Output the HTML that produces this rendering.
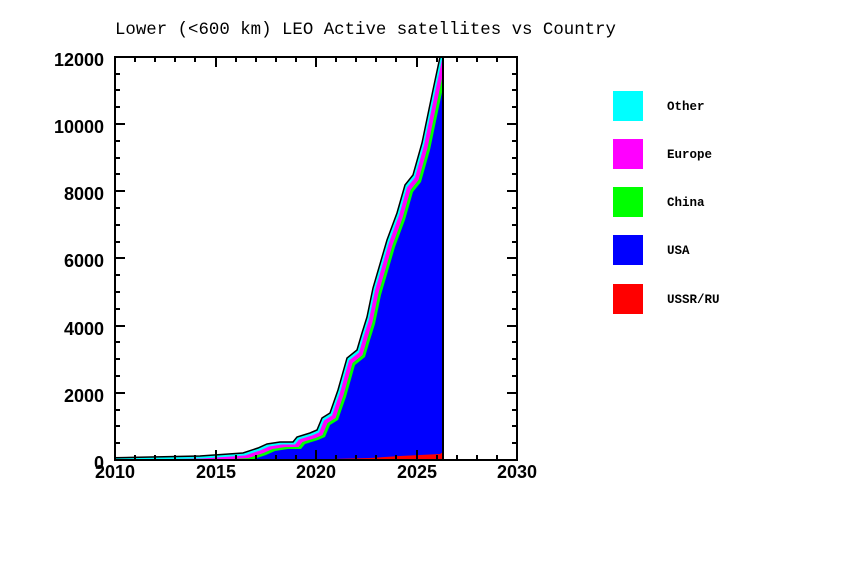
<!DOCTYPE html>
<html><head><meta charset="utf-8"><style>
html,body{margin:0;padding:0;background:#fff;}
svg{display:block;}
.t{font-family:"Liberation Sans",sans-serif;font-weight:bold;font-size:18px;fill:#000;}
.l{font-family:"Liberation Mono",monospace;font-weight:bold;font-size:12.5px;fill:#000;}
</style></head><body>
<svg width="857" height="576" viewBox="0 0 857 576" xmlns="http://www.w3.org/2000/svg">
<defs>
<clipPath id="c"><rect x="115" y="57" width="328" height="403"/></clipPath>
<polygon id="p" points="100,458 200,456 243,453 258,448 267,444 280,442 293,442 297,437 310,433 317,430 322,418 330,413 338,390 347,358 357,350 362,333 367,317 373,288 387,240 397,213 405,185 413,175 422,143 433,90 440,57 443,40 460,40 460,470 100,470"/>
</defs>
<text x="115" y="34" font-family="Liberation Mono,monospace" font-size="17.4" fill="#000">Lower (&lt;600 km) LEO Active satellites vs Country</text>
<g clip-path="url(#c)">
<use href="#p" fill="#00ffff" stroke="#000" stroke-width="1.5"/>
<use href="#p" fill="#ff00ff" transform="translate(2,2.5)"/>
<use href="#p" fill="#00ff00" transform="translate(5.5,5)"/>
<use href="#p" fill="#0000ff" transform="translate(8,7)"/>
<polygon points="115,460 115,459 330,459 370,458 400,456 420,455 440,454 443,452 443,460" fill="#ff0000"/>
</g>
<line x1="443" y1="57" x2="443" y2="460" stroke="#000" stroke-width="2"/>
<rect x="115" y="57" width="402" height="403" fill="none" stroke="#000" stroke-width="2"/>
<g stroke="#000" stroke-width="2">
<path d="M115,460h10M115,393h10M115,326h10M115,258h10M115,191h10M115,124h10M115,57h10
M517,460h-10M517,393h-10M517,326h-10M517,258h-10M517,191h-10M517,124h-10M517,57h-10
M115,443h5M115,426h5M115,410h5M115,376h5M115,359h5M115,342h5M115,309h5M115,292h5M115,275h5M115,242h5M115,225h5M115,208h5M115,174h5M115,158h5M115,141h5M115,107h5M115,90h5M115,74h5
M517,443h-5M517,426h-5M517,410h-5M517,376h-5M517,359h-5M517,342h-5M517,309h-5M517,292h-5M517,275h-5M517,242h-5M517,225h-5M517,208h-5M517,174h-5M517,158h-5M517,141h-5M517,107h-5M517,90h-5M517,74h-5
M216,460v-10M316,460v-10M417,460v-10M216,57v10M316,57v10M417,57v10
M135,460v-5M155,460v-5M175,460v-5M195,460v-5M236,460v-5M256,460v-5M276,460v-5M296,460v-5M336,460v-5M356,460v-5M376,460v-5M396,460v-5M437,460v-5M457,460v-5M477,460v-5M497,460v-5
M135,57v5M155,57v5M175,57v5M195,57v5M236,57v5M256,57v5M276,57v5M296,57v5M336,57v5M356,57v5M376,57v5M396,57v5M437,57v5M457,57v5M477,57v5M497,57v5"/>
</g>
<g class="t" text-anchor="end">
<text x="104" y="66">12000</text>
<text x="104" y="133">10000</text>
<text x="104" y="200">8000</text>
<text x="104" y="267">6000</text>
<text x="104" y="335">4000</text>
<text x="104" y="402">2000</text>
<text x="104" y="469">0</text>
</g>
<g class="t" text-anchor="middle">
<text x="115" y="478">2010</text>
<text x="216" y="478">2015</text>
<text x="316" y="478">2020</text>
<text x="417" y="478">2025</text>
<text x="517" y="478">2030</text>
</g>
<rect x="613" y="91" width="30" height="30" fill="#00ffff"/>
<rect x="613" y="139" width="30" height="30" fill="#ff00ff"/>
<rect x="613" y="187" width="30" height="30" fill="#00ff00"/>
<rect x="613" y="235" width="30" height="30" fill="#0000ff"/>
<rect x="613" y="284" width="30" height="30" fill="#ff0000"/>
<text class="l" x="667" y="110">Other</text>
<text class="l" x="667" y="158">Europe</text>
<text class="l" x="667" y="206">China</text>
<text class="l" x="667" y="254">USA</text>
<text class="l" x="667" y="303">USSR/RU</text>
</svg>
</body></html>
